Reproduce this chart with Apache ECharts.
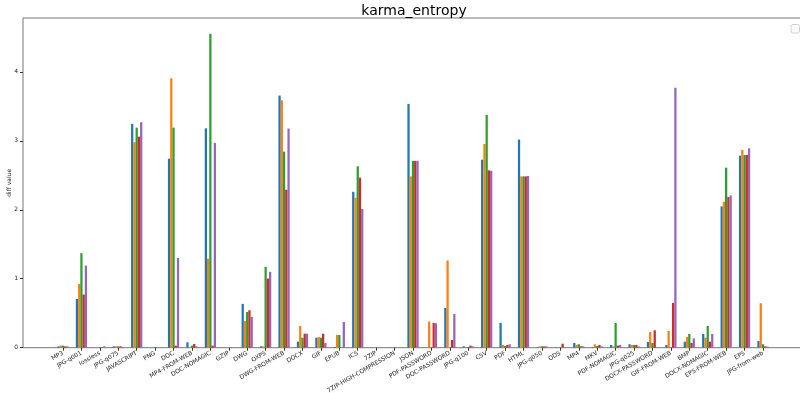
<!DOCTYPE html>
<html>
<head>
<meta charset="utf-8">
<script src="https://cdn.jsdelivr.net/npm/echarts@6/dist/echarts.min.js"></script>
<style>html,body{margin:0;padding:0;background:#fff}#c{width:800px;height:393px}</style>
</head>
<body>
<div id="c"></div>
<script>
const categories = ['MP3','JPG-q001','lossless','JPG-q075','JAVASCRIPT','PNG','DOC','MP4-FROM-WEB','DOC-NOMAGIC','GZIP','DWG','OXPS','DWG-FROM-WEB','DOCX','GIF','EPUB','ICS','7ZIP','7ZIP-HIGH-COMPRESSION','JSON','PDF-PASSWORD','DOC-PASSWORD','JPG-q100','CSV','PDF','HTML','JPG-q050','ODS','MP4','MKV','PDF-NOMAGIC','JPG-q025','DOCX-PASSWORD','GIF-FROM-WEB','BMP','DOCX-NOMAGIC','EPS-FROM-WEB','EPS','JPG-from-web'];
const series1 = [0.02,0.707,0,0.02,3.245,0,2.74,0.078,3.18,0,0.635,0.02,3.656,0.087,0.145,0.01,2.26,0,0,3.535,0,0.577,0.02,2.726,0.359,3.017,0.01,0.005,0.068,0.01,0.04,0.05,0.083,0.04,0.087,0.199,2.048,2.784,0.097];
const series2 = [0.03,0.925,0,0.02,2.98,0,3.907,0.01,1.29,0,0.388,0.02,3.588,0.315,0.155,0.184,2.174,0,0,2.484,0.378,1.264,0,2.954,0.04,2.484,0.02,0,0.04,0.05,0.02,0.04,0.228,0.243,0.155,0.145,2.116,2.867,0.645];
const series3 = [0.03,1.37,0.01,0.02,3.19,0.01,3.19,0.03,4.55,0,0.518,1.172,2.843,0.145,0.145,0.184,2.63,0,0,2.707,0.01,0,0.01,3.375,0.025,2.484,0.02,0.01,0.05,0.025,0.359,0.04,0.068,0,0.199,0.315,2.61,2.794,0.05];
const series4 = [0.02,0.77,0.005,0.02,3.06,0,0.03,0.054,0.03,0,0.543,1.003,2.29,0.203,0.203,0.005,2.465,0,0,2.707,0.359,0.112,0.03,2.571,0.04,2.484,0.02,0.058,0.02,0.04,0.03,0.04,0.252,0.649,0.07,0.087,2.184,2.794,0.02];
const series5 = [0.02,1.19,0.02,0.01,3.27,0,1.30,0.02,2.97,0,0.446,1.10,3.177,0.203,0.068,0.373,2.01,0,0,2.71,0.355,0.489,0.02,2.566,0.05,2.49,0.02,0,0.02,0.02,0.04,0.02,0.005,3.768,0.136,0.199,2.208,2.89,0.015];
const yTicks = [0,1,2,3,4];
const yMax = 4.78;

const colors = ['#1f77b4','#ff7f0e','#2ca02c','#d62728','#9467bd'];
const allSeries = [series1,series2,series3,series4,series5];
const font = 'DejaVu Sans';

const chart = echarts.init(document.getElementById('c'), null, {renderer:'canvas'});
chart.setOption({
  animation:false,
  backgroundColor:'#fff',
  title:{text:'karma_entropy', left:414, top:4, padding:0, textAlign:'center',
    textStyle:{fontFamily:font, fontSize:14, fontWeight:'normal', color:'#000'}},
  grid:[
    {left:23, top:18, width:800, bottom:45.3, show:true, borderColor:'#777', borderWidth:1, backgroundColor:'transparent', containLabel:false, outerBoundsMode:'none'},
    {left:53.8, top:18, right:27.8, bottom:45.3, containLabel:false, outerBoundsMode:'none'}
  ],
  xAxis:[
    {type:'value', gridIndex:0, show:false, min:0, max:1},
    {type:'category', gridIndex:1, data:categories,
      axisLine:{show:false},
      axisTick:{show:true, alignWithLabel:true, length:3, lineStyle:{color:'#333'}},
      axisLabel:{interval:0, rotate:30, fontSize:6, fontFamily:font, color:'#222', margin:5}}
  ],
  yAxis:[
    {type:'value', gridIndex:0, min:0, max:yMax,
      name:'diff value', nameLocation:'middle', nameRotate:90, nameGap:11, nameMoveOverlap:false,
      nameTextStyle:{fontFamily:font, fontSize:6, color:'#222'},
      axisLine:{show:false},
      splitLine:{show:false},
      axisTick:{show:true, length:3, lineStyle:{color:'#333'}, customValues:yTicks},
      axisLabel:{fontSize:6, fontFamily:font, color:'#222', margin:5, customValues:yTicks}},
    {type:'value', gridIndex:1, min:0, max:yMax, show:false}
  ],
  series: allSeries.map((d,i)=>({
    type:'bar', xAxisIndex:1, yAxisIndex:1, data:d, barWidth:2.25, barGap:'0%',
    itemStyle:{color:colors[i]}
  })),
  graphic:[{type:'rect', shape:{x:791, y:24.5, width:8.5, height:8.5, r:2},
    style:{fill:'#fff', stroke:'#d0d0d0', lineWidth:1}}]
});
</script>
</body>
</html>
